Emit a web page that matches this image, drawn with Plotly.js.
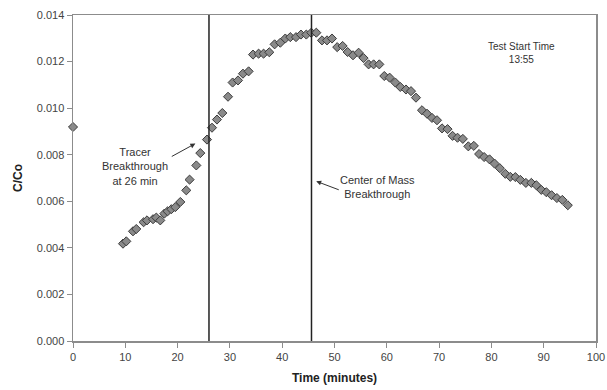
<!DOCTYPE html>
<html>
<head>
<meta charset="utf-8">
<script src="https://cdn.plot.ly/plotly-3.0.1.min.js"></script>
<style>html,body{margin:0;padding:0;background:#fff;}#chart{width:607px;height:390px;}</style>
</head>
<body>
<div id="chart"></div>
<script>
const timeMin = [0, 9.56, 10.19, 11.47, 12.10, 13.50, 14.15, 15.30, 15.93, 16.69, 17.46, 18.09, 18.80, 19.56, 20.52, 21.66, 22.29, 23.58, 24.34, 25.62,
  26.58, 27.53, 28.55, 29.64, 30.52, 31.55, 32.50, 33.58, 34.42, 35.49, 36.44, 37.53, 38.55, 39.64, 40.59, 41.55, 42.64, 43.59, 44.61, 45.56, 46.52,
  47.61, 48.57, 49.52, 50.52, 51.55, 52.51, 53.54, 54.61, 55.56, 56.52, 57.48, 58.57, 59.52, 60.54, 61.63, 62.58, 63.67, 64.63, 65.58, 66.73,
  67.69, 68.64, 69.60, 70.56, 71.61, 72.57, 73.52, 74.54, 75.59, 76.64, 77.65, 78.61, 79.64, 80.60, 81.61, 82.66, 83.62, 84.58, 85.53, 86.59,
  87.64, 88.59, 89.54, 90.50, 91.51, 92.52, 93.56, 94.61];
const cOverCo = [0.00919, 0.00418, 0.00428, 0.00471, 0.00481, 0.00510, 0.00518, 0.00523, 0.00530, 0.00518, 0.00547, 0.00557, 0.00566, 0.00575, 0.00597, 0.00647, 0.00693, 0.00754, 0.00807, 0.00865,
  0.00916, 0.00951, 0.00979, 0.01049, 0.01110, 0.01119, 0.01148, 0.01158, 0.01230, 0.01234, 0.01234, 0.01240, 0.01274, 0.01281, 0.01299, 0.01305, 0.01305, 0.01316, 0.01316, 0.01324, 0.01324,
  0.01291, 0.01291, 0.01299, 0.01262, 0.01267, 0.01241, 0.01227, 0.01238, 0.01215, 0.01188, 0.01188, 0.01188, 0.01138, 0.01131, 0.01110, 0.01091, 0.01080, 0.01073, 0.01045, 0.00991,
  0.00976, 0.00958, 0.00948, 0.00913, 0.00910, 0.00881, 0.00873, 0.00868, 0.00836, 0.00838, 0.00803, 0.00790, 0.00780, 0.00762, 0.00742, 0.00718, 0.00705, 0.00704, 0.00692, 0.00679,
  0.00679, 0.00669, 0.00649, 0.00639, 0.00626, 0.00614, 0.00606, 0.00583];
const markerTimes = [26, 45.6];
const xTickVals = [0, 10, 20, 30, 40, 50, 60, 70, 80, 90, 100];
const yTickVals = [0, 0.002, 0.004, 0.006, 0.008, 0.010, 0.012, 0.014];

const trace = {
  x: timeMin, y: cOverCo, type: 'scatter', mode: 'markers', cliponaxis: false,
  marker: {symbol: 'diamond', size: 7, color: '#8a8a8a', line: {color: '#3c3c3c', width: 1}},
  hoverinfo: 'skip'
};

const axisCommon = {
  showline: true, mirror: true, linecolor: '#8c8c8c', linewidth: 1.5,
  showgrid: false, zeroline: false, ticks: 'outside', ticklen: 5, tickcolor: '#8c8c8c', tickwidth: 1,
  tickfont: {family: 'Liberation Sans, Arial, sans-serif', size: 11, color: '#444'}
};

const txtFont = {family: 'Liberation Sans, Arial, sans-serif', size: 11, color: '#333'};

const layout = {
  width: 607, height: 390,
  margin: {l: 73, r: 11, t: 15, b: 49},
  paper_bgcolor: '#fff', plot_bgcolor: '#fff',
  showlegend: false,
  xaxis: Object.assign({}, axisCommon, {
    range: [0, 100], tickvals: xTickVals, ticktext: xTickVals.map(String),
    title: {text: '<b>Time (minutes)</b>', font: {family: 'Liberation Sans, Arial, sans-serif', size: 12, color: '#222'}, standoff: 12}
  }),
  yaxis: Object.assign({}, axisCommon, {
    range: [0, 0.014], tickvals: yTickVals, ticktext: yTickVals.map(v => v.toFixed(3)),
    title: {text: '<b>C/Co</b>', font: {family: 'Liberation Sans, Arial, sans-serif', size: 12, color: '#222'}, standoff: 11}
  }),
  shapes: markerTimes.map(t => ({type: 'line', xref: 'x', yref: 'paper', x0: t, x1: t, y0: 0, y1: 1, line: {color: '#222', width: 1.5}})),
  annotations: [
    {x: 11.9, y: 0.00748, xref: 'x', yref: 'y', text: 'Tracer<br>Breakthrough<br>at 26 min', showarrow: false, font: txtFont, align: 'center', xanchor: 'center', yanchor: 'middle'},
    {x: 23.4, y: 0.00848, ax: 18.6, ay: 0.00789, xref: 'x', yref: 'y', axref: 'x', ayref: 'y', text: '', showarrow: true, arrowhead: 2, arrowsize: 1, arrowwidth: 1, arrowcolor: '#333'},
    {x: 58.3, y: 0.00661, xref: 'x', yref: 'y', text: 'Center of Mass<br>Breakthrough', showarrow: false, font: txtFont, align: 'center', xanchor: 'center', yanchor: 'middle'},
    {x: 46.5, y: 0.00686, ax: 51.1, ay: 0.00647, xref: 'x', yref: 'y', axref: 'x', ayref: 'y', text: '', showarrow: true, arrowhead: 2, arrowsize: 1, arrowwidth: 1, arrowcolor: '#333'},
    {x: 85.8, y: 0.01236, xref: 'x', yref: 'y', text: 'Test Start Time<br>13:55', showarrow: false, font: {family: 'Liberation Sans, Arial, sans-serif', size: 10, color: '#333'}, align: 'center', xanchor: 'center', yanchor: 'middle'}
  ]
};

Plotly.newPlot('chart', [trace], layout, {staticPlot: true, displayModeBar: false});
</script>
</body>
</html>
